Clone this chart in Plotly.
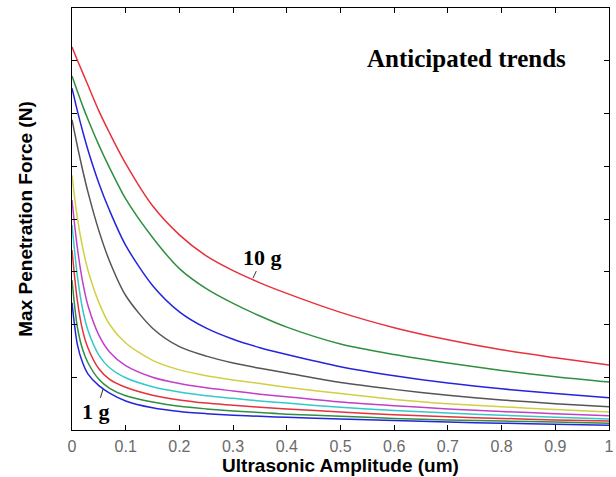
import plotly.graph_objects as go

x = [0, 0.01, 0.02, 0.03, 0.05, 0.07, 0.1, 0.15, 0.2, 0.25, 0.3, 0.35, 0.4, 0.5, 0.6, 0.7, 0.8, 0.9, 1.0]

g10 = [7.26, 7.01, 6.77, 6.53, 6.05, 5.63, 5.05, 4.25, 3.70, 3.30, 3.02, 2.79, 2.59, 2.23, 1.94, 1.71, 1.52, 1.37, 1.23]
g9 = [6.71, 6.42, 6.14, 5.88, 5.40, 4.97, 4.38, 3.65, 3.06, 2.68, 2.40, 2.16, 1.95, 1.63, 1.43, 1.27, 1.13, 1.01, 0.91]
g8 = [6.48, 6.05, 5.66, 5.30, 4.68, 4.16, 3.50, 2.74, 2.24, 1.93, 1.72, 1.56, 1.43, 1.20, 1.03, 0.89, 0.78, 0.69, 0.61]
g7 = [5.88, 5.38, 4.92, 4.50, 3.78, 3.20, 2.55, 1.93, 1.58, 1.40, 1.27, 1.17, 1.08, 0.90, 0.77, 0.66, 0.57, 0.50, 0.44]
g6 = [4.83, 4.02, 3.45, 3.02, 2.42, 2.00, 1.65, 1.32, 1.14, 1.03, 0.95, 0.88, 0.81, 0.69, 0.58, 0.50, 0.44, 0.39, 0.34]
g5 = [4.36, 3.45, 2.80, 2.35, 1.80, 1.48, 1.22, 1.00, 0.88, 0.80, 0.74, 0.68, 0.63, 0.53, 0.46, 0.40, 0.35, 0.31, 0.27]
g4 = [3.89, 2.92, 2.28, 1.88, 1.42, 1.18, 0.99, 0.82, 0.72, 0.65, 0.60, 0.55, 0.51, 0.43, 0.37, 0.32, 0.28, 0.24, 0.21]
g3 = [3.41, 2.45, 1.88, 1.55, 1.16, 0.96, 0.81, 0.66, 0.57, 0.51, 0.47, 0.43, 0.40, 0.34, 0.29, 0.25, 0.22, 0.19, 0.17]
g2 = [2.84, 1.95, 1.52, 1.27, 0.96, 0.79, 0.65, 0.53, 0.45, 0.40, 0.36, 0.33, 0.30, 0.26, 0.22, 0.19, 0.17, 0.15, 0.13]
g1 = [2.41, 1.62, 1.27, 1.06, 0.84, 0.70, 0.55, 0.42, 0.35, 0.31, 0.28, 0.26, 0.24, 0.21, 0.18, 0.15, 0.13, 0.11, 0.09]

series = [g10, g9, g8, g7, g6, g5, g4, g3, g2, g1]
names = ["10 g", "9 g", "8 g", "7 g", "6 g", "5 g", "4 g", "3 g", "2 g", "1 g"]
colors = ["#e6323c", "#2f8f3f", "#2424dd", "#555555", "#d2cf45", "#c23fc8",
          "#34c9c9", "#e6323c", "#2f8f3f", "#2424dd"]

x_ticks = [0, 0.1, 0.2, 0.3, 0.4, 0.5, 0.6, 0.7, 0.8, 0.9, 1]
x_ticklabels = ["0", "0.1", "0.2", "0.3", "0.4", "0.5", "0.6", "0.7", "0.8", "0.9", "1"]

fig = go.Figure()
for ys, nm, c in zip(series, names, colors):
    fig.add_trace(go.Scatter(x=x, y=ys, name=nm, mode="lines",
                             line=dict(color=c, width=1.5, shape="spline", smoothing=0.8)))

fig.update_layout(
    width=616, height=477,
    margin=dict(l=72, r=7, t=8, b=47, autoexpand=False),
    paper_bgcolor="white", plot_bgcolor="white",
    showlegend=False,
    font=dict(family="Liberation Sans, Arial, sans-serif"),
)
fig.update_xaxes(
    range=[0, 1], tickvals=x_ticks, ticktext=x_ticklabels, automargin=False,
    ticks="inside", ticklen=5, tickcolor="black",
    showline=True, linecolor="black", linewidth=1, mirror="ticks",
    showgrid=False, zeroline=False, ticklabelstandoff=2,
    tickfont=dict(size=16, color="#6a6a6a"),
    title=dict(text="<b>Ultrasonic Amplitude (um)</b>", font=dict(size=19, color="black"), standoff=3),
)
fig.update_yaxes(
    range=[0, 8], dtick=1, tick0=0, showticklabels=False, automargin=False,
    ticks="inside", ticklen=5, tickcolor="black",
    showline=True, linecolor="black", linewidth=1, mirror="ticks",
    showgrid=False, zeroline=False,
    title=dict(text="<b>Max Penetration Force (N)</b>", font=dict(size=19, color="black"), standoff=33),
)

serif = "Liberation Serif, Times New Roman, serif"
fig.add_annotation(x=0.735, y=7.05, xref="x", yref="y", text="<b>Anticipated trends</b>",
                   showarrow=False, font=dict(family=serif, size=25, color="black"))
fig.add_annotation(x=0.337, y=2.88, xref="x", yref="y", text="<b>10 g</b>",
                   showarrow=True, arrowhead=0, arrowwidth=1, arrowcolor="#333333",
                   ax=10, ay=-21, font=dict(family=serif, size=22, color="black"))
fig.add_annotation(x=0.058, y=0.78, xref="x", yref="y", text="<b>1 g</b>",
                   showarrow=True, arrowhead=0, arrowwidth=1, arrowcolor="#333333",
                   ax=-7, ay=23, font=dict(family=serif, size=22, color="black"))

fig.write_html("out.html")
